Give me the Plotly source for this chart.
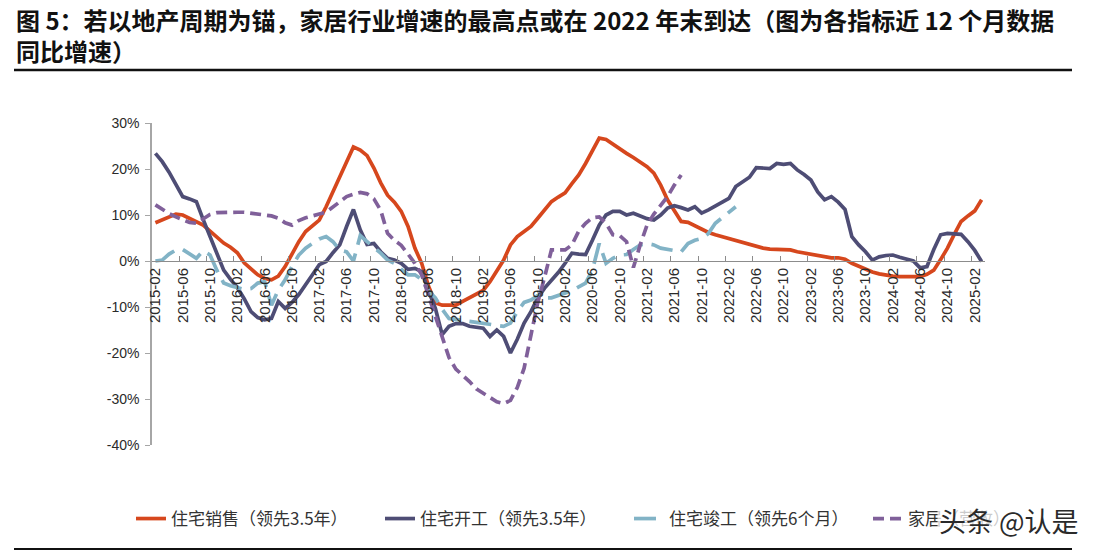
import pandas as pd
import plotly.graph_objects as go

# ---------------- data ----------------
months = pd.date_range("2015-02-01", periods=122, freq="MS").strftime("%Y-%m").tolist()

sales = [8.3, 9.0, 9.7, 10.2, 10.0, 9.2, 8.5, 7.8, 6.5, 5.2,
         3.9, 3.0, 1.8, -0.4, -1.8, -3.0, -3.8, -4.1, -3.3, -1.2,
         1.5, 4.2, 6.4, 7.6, 8.9, 11.8, 15.0, 18.0, 21.5, 24.8,
         24.1, 22.9, 20.2, 17.0, 14.3, 12.8, 10.8, 7.5, 2.8, -0.5,
         -5.5, -9.1, -9.6, -9.7, -9.6, -8.8, -8.0, -7.2, -6.4, -4.5,
         -2.0, 0.2, 3.5, 5.3, 6.4, 7.5, 9.3, 11.2, 12.9, 13.9,
         14.8, 16.8, 18.7, 21.2, 24.0, 26.7, 26.4, 25.4, 24.2, 23.4,
         22.5, 21.4, 20.5, 19.1, 16.5, 13.3, 10.8, 8.6, 8.4, 7.7,
         6.8, 6.2, 5.7, 5.3, 4.9, 4.3, 3.9, 3.5, 3.1, 2.8,
         2.6, 2.5, 2.5, 2.4, 2.0, 1.7, 1.4, 1.1, 0.8, 0.7,
         0.7, 0.4, -0.5, -1.2, -1.8, -2.4, -2.8, -3.1, -3.3, -3.4,
         -3.4, -3.4, -3.4, -2.9, -2.0, 0.3, 2.8, 5.8, 8.6, 9.8,
         10.9, 13.3]

starts = [23.4, 21.6, 19.3, 16.5, 14.0, 13.5, 12.9, 9.0, 5.5, 2.0,
          -2.0, -4.0, -5.8, -8.2, -11.0, -12.3, -12.8, -12.5, -8.8, -10.3,
          -9.0, -7.3, -5.0, -3.0, -0.8, -0.1, 1.8, 3.5, 7.5, 11.2,
          6.8, 3.6, 3.8, 2.0, 0.6, 0.2, -0.5, -1.8, -1.6, -2.3,
          -6.5, -10.3, -16.0, -14.2, -13.6, -13.6, -14.2, -14.4, -14.6, -16.4,
          -15.0, -16.4, -20.0, -17.0, -13.5, -11.0, -8.0, -5.9, -4.3, -2.5,
          -0.5, 1.7, 1.5, 1.4, 4.5, 7.8, 10.0, 10.8, 10.8, 10.0,
          10.4, 9.8, 9.2, 8.9, 10.0, 11.5, 12.0, 11.6, 11.1, 11.8,
          10.4, 11.1, 12.0, 12.8, 13.6, 16.2, 17.2, 18.2, 20.3, 20.2,
          20.1, 21.2, 21.0, 21.2, 19.8, 18.8, 17.6, 15.0, 13.3, 14.0,
          12.8, 11.2, 5.3, 3.5, 2.0, 0.2, 0.9, 1.2, 1.3, 0.8,
          0.3, 0.0, -1.5, -1.2, 2.5, 5.7, 6.0, 6.0, 5.8, 4.2,
          2.3, -0.1]

completions = [0.0, 0.2, 1.5, 2.4, 2.5, 1.6, 0.6, 2.2, 1.3, -2.0,
               -4.8, -5.4, -5.9, -6.2, -6.0, -4.8, -4.5, -9.6, -6.3, -4.1,
               -1.2, 1.3, 2.8, 3.8, 4.8, 5.3, 4.2, 2.4, 2.0, 0.0,
               5.5, 4.2, 3.0, 1.7, 0.2, -0.5, -1.8, -3.0, -3.0, -4.0,
               -6.5, -8.0, -10.5, -12.5, -12.7, -12.9, -13.0, -13.2, -13.4, -13.7,
               -13.9, -14.2, -13.5, -11.0, -9.0, -8.5, -7.5, -8.0, -8.0, -7.5,
               -7.2, -6.5, -5.6, -4.8, -2.0, 3.8, -0.5, 0.6, 1.3, 1.4,
               2.5, 3.5, 3.8, 3.5, 2.8, 2.5, 2.4, 2.0, 3.8, 4.5,
               4.9, 6.0, 8.2, 9.4, 10.5, 11.8]

furniture = [12.2, 11.2, 10.3, 9.6, 9.0, 8.4, 8.2, 9.2, 10.1, 10.5,
             10.6, 10.7, 10.6, 10.6, 10.4, 10.2, 10.0, 9.8, 9.3, 8.3,
             7.8, 8.8, 9.4, 9.9, 10.2, 10.6, 11.8, 12.9, 14.0, 14.5,
             14.9, 14.6, 13.5, 11.0, 6.0, 4.5, 3.4, 1.5, -0.5, -3.0,
             -7.5, -12.0, -16.0, -21.0, -23.5, -24.8, -26.2, -27.8, -28.8, -29.8,
             -30.6, -31.0, -30.3, -27.5, -23.3, -16.1, -9.0, -3.5, 2.4, 2.4,
             2.4, 3.5, 6.5, 8.2, 9.4, 9.6, 8.2, 5.7, 5.5, 4.2,
             -1.4, 3.5, 7.8, 10.2, 12.2, 14.0, 16.5, 18.7]

names = ["住宅销售（领先3.5年）", "住宅开工（领先3.5年）", "住宅竣工（领先6个月）", "家居（营收）"]
y_ticks = [-40, -30, -20, -10, 0, 10, 20, 30]
y_tick_text = [f"{v}%" for v in y_ticks]

title_text = ("<b>图 5：若以地产周期为锚，家居行业增速的最高点或在 2022 年末到达（图为各指标近 12 个月数据"
              "<br>同比增速）</b>")

# ---------------- figure ----------------
W, H = 1096, 553
L, T = 152, 123
pw, ph = 833, 322
R, B = W - L - pw, H - T - ph

def px2x(px):
    return (px - L) / pw

def py2y(py):
    return (T + ph - py) / ph

fig = go.Figure()
fig.add_trace(go.Scatter(x=months[:len(sales)], y=sales, mode="lines", name=names[0],
                         line=dict(color="#D6471D", width=3.7), legend="legend"))
fig.add_trace(go.Scatter(x=months[:len(starts)], y=starts, mode="lines", name=names[1],
                         line=dict(color="#4E4D75", width=3.7), legend="legend"))
fig.add_trace(go.Scatter(x=months[:len(completions)], y=completions, mode="lines", name=names[2],
                         line=dict(color="#82B3C6", width=3.7, dash="22px,9px"), legend="legend"))
fig.add_trace(go.Scatter(x=months[:len(furniture)], y=furniture, mode="lines", name=names[3],
                         line=dict(color="#80609A", width=3.7, dash="11px,6px"), legend="legend2"))

zero_pos = (0 - (-40)) / 70.0
legend_font = dict(size=17, family="Noto Sans CJK SC", color="#333333")

fig.update_layout(
    width=W, height=H,
    margin=dict(l=L, r=R, t=T, b=B),
    paper_bgcolor="white", plot_bgcolor="white",
    font=dict(family="Liberation Sans, Arial, sans-serif", color="#222222"),
    xaxis=dict(
        type="category", categoryorder="array", categoryarray=months,
        range=[-0.5, len(months) - 0.5],
        tickmode="linear", tick0=0, dtick=4, tickson="boundaries",
        tickangle=-90, tickfont=dict(size=15, color="#2a2a2a"),
        ticks="inside", ticklen=5, tickcolor="#8C8C8C",
        showline=True, linecolor="#8C8C8C", linewidth=1,
        showgrid=False, zeroline=False,
        anchor="free", position=zero_pos,
    ),
    yaxis=dict(
        range=[-40, 30], tickmode="array", tickvals=y_ticks, ticktext=y_tick_text,
        tickfont=dict(size=14, color="#2a2a2a", family="Liberation Sans Narrow, Liberation Sans, Arial"),
        ticks="outside", ticklen=5, tickcolor="#A6A6A6", ticklabelstandoff=3,
        showline=True, linecolor="#A6A6A6", linewidth=1.5,
        showgrid=False, zeroline=False,
    ),
    showlegend=True,
    legend=dict(
        orientation="h", x=px2x(131), xanchor="left", y=py2y(519), yanchor="middle",
        font=legend_font, entrywidth=204, bgcolor="rgba(0,0,0,0)", traceorder="normal",
    ),
    legend2=dict(
        orientation="h", x=px2x(868), xanchor="left", y=py2y(519), yanchor="middle",
        font=legend_font, bgcolor="rgba(0,0,0,0)",
    ),
)

fig.add_annotation(
    text=title_text, xref="paper", yref="paper", x=px2x(14), y=py2y(35),
    xanchor="left", yanchor="middle", align="left", showarrow=False,
    font=dict(size=24, family="Noto Sans CJK SC", color="#111111"),
)

fig.add_shape(type="line", xref="paper", yref="paper",
              x0=px2x(14), x1=px2x(1072), y0=py2y(70), y1=py2y(70),
              line=dict(color="#111111", width=2.5))
fig.add_shape(type="line", xref="paper", yref="paper",
              x0=px2x(14), x1=px2x(1072), y0=py2y(549), y1=py2y(549),
              line=dict(color="#111111", width=2))

fig.add_annotation(
    text="头条 @认是", xref="paper", yref="paper", x=px2x(1009), y=py2y(520),
    xanchor="center", yanchor="middle", showarrow=False,
    bgcolor="rgba(255,255,255,0.75)",
    font=dict(size=27, family="Noto Sans CJK SC", color="#2a2a2a"),
)

fig.write_html("out.html", config={"displayModeBar": False},
               post_script="document.body.style.margin='0px';")
